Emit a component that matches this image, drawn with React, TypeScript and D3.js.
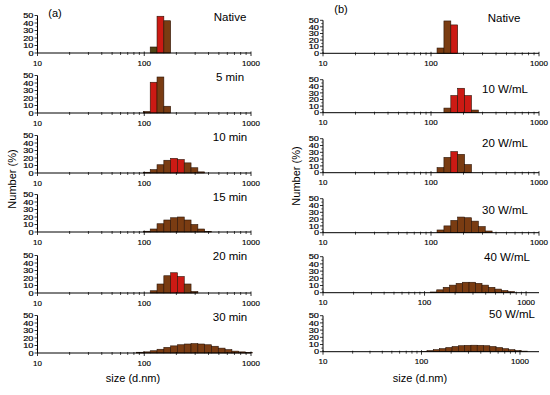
import React from 'react';
import * as d3 from 'd3';

// Malvern size classes (d.nm), bin centres
const BINS = [91.28, 105.7, 122.4, 141.8, 164.2, 190.1, 220.2, 255.0, 295.3, 342.0, 396.1, 458.7, 531.2, 615.1, 712.4, 825.0, 955.4, 1106, 1281];

// Panel (a): sonication time
const titlesA = ['Native', '5 min', '10 min', '15 min', '20 min', '30 min'];
const aNative = [0, 0, 8, 49, 43];
const a5min = [0, 2, 41, 48, 9];
const a10min = [0, 1, 4.5, 11, 17, 19.5, 18, 13.5, 7, 1.5];
const a15min = [0, 1, 4, 11, 16, 19, 20, 16, 10, 4, 0.8];
const a20min = [0, 0, 3, 12, 23, 27, 22, 12, 2];
const a30min = [1, 1.5, 3, 5, 7.5, 9.5, 11, 12, 12.5, 12, 11, 9, 6.5, 4.5, 2.5, 1.5, 0.5];

// Panel (b): power density
const titlesB = ['Native', '10 W/mL', '20 W/mL', '30 W/mL', '40 W/mL', '50 W/mL'];
const bNative = [0, 0, 8, 49, 43];
const b10 = [0, 0, 0, 7, 26, 37, 26, 4];
const b20 = [0, 0, 7.5, 22.5, 31, 27, 12];
const b30 = [0, 0, 4, 10, 18, 23, 22, 17, 9, 2.5];
const b40 = [0, 0, 1, 4, 7.5, 10.5, 13, 14.5, 14.5, 13, 10.5, 7.5, 5, 3, 1.5];
const b50 = [0, 0.5, 1.5, 2.8, 4.2, 5.8, 7.2, 8.3, 8.8, 9, 8.8, 8.3, 7.2, 5.8, 4.2, 2.8, 1.6, 0.8];

const seriesA = [aNative, a5min, a10min, a15min, a20min, a30min];
const seriesB = [bNative, b10, b20, b30, b40, b50];

const yTicks = [0, 10, 20, 30, 40, 50];
const yMinor = [5, 15, 25, 35, 45];
const xTickLabels = [10, 100, 1000];
const xMaxA = [1000, 1000, 1000, 1000, 1000, 1000];
const xMaxB = [1000, 1000, 1000, 1000, 1340, 1560];

// ---- layout / style (not data) ----
const layoutA = {
  x0: 37.5, x1: 251,
  base: [53, 113, 173, 232, 293, 353],
  h: [37.5, 37.5, 37.5, 37.5, 37.5, 37.5],
  titleX: [230, 230, 230, 230, 230, 230],
  titleY: [21, 81, 141, 201, 260, 321],
};
const layoutB = {
  x0: 323, x1: 539,
  base: [53.3, 112.7, 172.7, 232.7, 292.7, 351.7],
  h: [33, 33, 34, 34, 36, 36],
  titleX: [504, 505, 505, 505, 507, 512],
  titleY: [22, 93, 147, 214, 261, 318],
};
const redA = [[3], [2], [5, 6], [], [5, 6], []];
const redB = [[4], [4, 5, 6], [4], [], [], []];
const BROWN = '#7a3c12';
const RED = '#cc1a14';
const OLIVE = '#4f4414';
const STROKE = '#2a1306';
const FONT = 'Liberation Sans, Arial, sans-serif';

function edges(i: number): [number, number] {
  const lo = i > 0 ? Math.sqrt(BINS[i] * BINS[i - 1]) : BINS[i] / Math.sqrt(BINS[1] / BINS[0]);
  const hi = i < BINS.length - 1 ? Math.sqrt(BINS[i] * BINS[i + 1]) : BINS[i] * Math.sqrt(BINS[i] / BINS[i - 1]);
  return [lo, hi];
}

function Panel(props: { values: number[]; xMax: number; x0: number; x1: number; base: number; h: number; title: string; tx: number; ty: number; reds: number[]; olive?: number[] }) {
  const { values, xMax, x0, x1, base, h, title, tx, ty, reds, olive } = props;
  const x = d3.scaleLog().domain([10, xMax]).range([x0, x1]);
  const y = d3.scaleLinear().domain([0, 50]).range([base, base - h]);
  const minor: number[] = [];
  for (let d = 10; d < xMax; d *= 10) {
    for (let k = 2; k <= 9; k++) if (d * k < xMax) minor.push(d * k);
  }
  return (
    <g>
      {values.map((v, i) => {
        if (!v) return null;
        const [lo, hi] = edges(i);
        const fill = reds.includes(i) ? RED : olive && olive.includes(i) ? OLIVE : BROWN;
        return (
          <rect key={i} x={x(lo)} y={y(v)} width={x(hi) - x(lo)} height={y(0) - y(v)} fill={fill} stroke={STROKE} strokeWidth={0.6} />
        );
      })}
      <line x1={x0} x2={x1} y1={base} y2={base} stroke="#000" strokeWidth={1} />
      <line x1={x0} x2={x0} y1={base} y2={y(50)} stroke="#000" strokeWidth={1} />
      {yTicks.map((t) => (
        <g key={'y' + t}>
          <line x1={x0 - 3} x2={x0} y1={y(t)} y2={y(t)} stroke="#000" strokeWidth={0.8} />
          <text transform={`translate(${x0 - 4},${y(t) + 2.6}) scale(1.15,0.85)`} fontSize={8} textAnchor="end" fontFamily={FONT}
            stroke="#000" strokeWidth={0.2}>{t}</text>
        </g>
      ))}
      {yMinor.map((t) => (
        <line key={'ym' + t} x1={x0 - 1.8} x2={x0} y1={y(t)} y2={y(t)} stroke="#000" strokeWidth={0.6} />
      ))}
      {minor.map((t) => (
        <line key={'xm' + t} x1={x(t)} x2={x(t)} y1={base - 1} y2={base + 2} stroke="#000" strokeWidth={0.7} />
      ))}
      {xTickLabels.filter((t) => t <= xMax).map((t) => (
        <g key={'x' + t}>
          <line x1={x(t)} x2={x(t)} y1={base - 1.5} y2={base + 3} stroke="#000" strokeWidth={0.8} />
          <text x={x(t)} y={base + 12.5} fontSize={8} textAnchor="middle" fontFamily={FONT} stroke="#000" strokeWidth={0.15}>{t}</text>
        </g>
      ))}
      <text x={tx} y={ty} fontSize={11.5} textAnchor="middle" fontFamily={FONT}>{title}</text>
    </g>
  );
}

export default function App() {
  return (
    <svg width={550} height={395} style={{ position: 'absolute', left: 0, top: 0, background: '#fff' }}>
      <rect width={550} height={395} fill="#fff" />
      {seriesA.map((vals, i) => (
        <Panel key={'a' + i} values={vals} xMax={xMaxA[i]} x0={layoutA.x0} x1={layoutA.x1} base={layoutA.base[i]} h={layoutA.h[i]}
          title={titlesA[i]} tx={layoutA.titleX[i]} ty={layoutA.titleY[i]} reds={redA[i]} olive={i === 0 ? [2] : []} />
      ))}
      {seriesB.map((vals, i) => (
        <Panel key={'b' + i} values={vals} xMax={xMaxB[i]} x0={layoutB.x0} x1={layoutB.x1} base={layoutB.base[i]} h={layoutB.h[i]}
          title={titlesB[i]} tx={layoutB.titleX[i]} ty={layoutB.titleY[i]} reds={redB[i]} />
      ))}
      <text x={55} y={17} fontSize={11} textAnchor="middle" fontFamily={FONT}>(a)</text>
      <text x={341} y={13} fontSize={11} textAnchor="middle" fontFamily={FONT}>(b)</text>
      <text transform="translate(16,179) rotate(-90)" fontSize={11} textAnchor="middle" fontFamily={FONT}>Number (%)</text>
      <text transform="translate(300,176) rotate(-90)" fontSize={11} textAnchor="middle" fontFamily={FONT}>Number (%)</text>
      <text x={133} y={382} fontSize={11} textAnchor="middle" fontFamily={FONT}>size (d.nm)</text>
      <text x={420} y={382} fontSize={11} textAnchor="middle" fontFamily={FONT}>size (d.nm)</text>
    </svg>
  );
}
